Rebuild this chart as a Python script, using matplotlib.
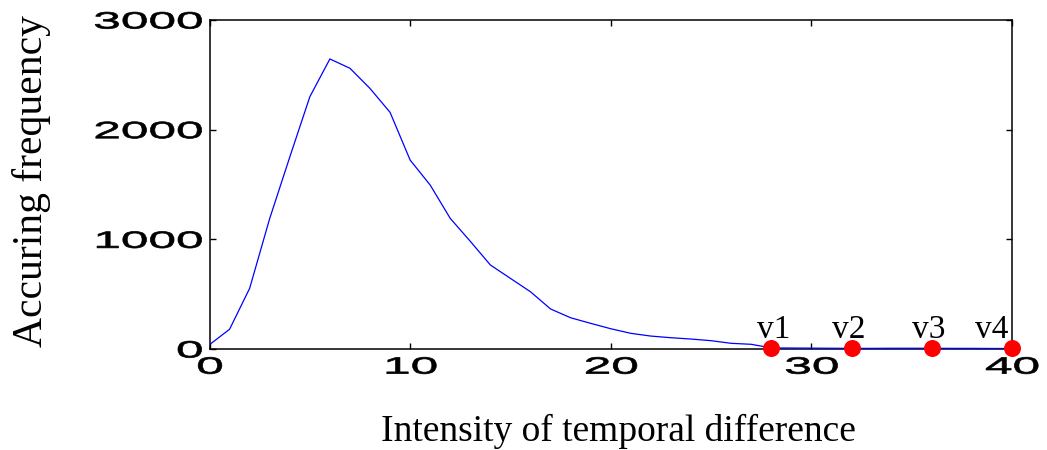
import matplotlib
matplotlib.use("Agg")
import matplotlib.pyplot as plt
from matplotlib.patheffects import AbstractPathEffect
from matplotlib.transforms import Affine2D

# Data
intensity = list(range(0, 41))
frequency = [40, 180, 553, 1190, 1750, 2300, 2645, 2560, 2376, 2158,
             1723, 1495, 1191, 982, 766, 644, 522, 365, 285, 234,
             185, 143, 118, 103, 91, 76, 52, 43, 10, 9,
             8, 7, 6, 6, 7, 7, 7, 6, 6, 5, 5]
marker_x = [28, 32, 36, 40]
marker_labels = ["v1", "v2", "v3", "v4"]
x_ticks = [0, 10, 20, 30, 40]
y_ticks = [0, 1000, 2000, 3000]


class StretchX(AbstractPathEffect):
    """Draw text glyphs horizontally stretched around an anchor."""
    def __init__(self, sx, anchor="center", stroke=0.0):
        super().__init__()
        self.sx = sx
        self.anchor = anchor
        self.stroke = stroke

    def draw_path(self, renderer, gc, tpath, affine, rgbFace=None):
        v = tpath.vertices
        if len(v):
            xmin, xmax = v[:, 0].min(), v[:, 0].max()
        else:
            xmin = xmax = 0.0
        a = {"left": xmin, "center": 0.5 * (xmin + xmax), "right": xmax}[self.anchor]
        t = Affine2D().translate(-a, 0).scale(self.sx, 1).translate(a, 0) + affine
        gc0 = renderer.new_gc()
        gc0.copy_properties(gc)
        if self.stroke > 0 and rgbFace is not None:
            gc0.set_linewidth(self.stroke)
            gc0.set_foreground(rgbFace)
        renderer.draw_path(gc0, tpath, t, rgbFace)
        gc0.restore()


fig = plt.figure(figsize=(10.47, 4.5), dpi=100)
ax = fig.add_axes([0.2001, 0.2244, 0.7665, 0.7311])

ax.plot(intensity, frequency, color="#0000ff", lw=0.9, zorder=3)

marker_y = [frequency[intensity.index(x)] for x in marker_x]
ax.plot(marker_x, marker_y, "o", color="#ff0000", ms=11.2, mec="#ff0000",
        clip_on=False, zorder=4)

label_offsets = [(1.5, 7.5), (-2, 7.5), (-2, 7.5), (-15, 7.5)]
for x, y, lab, off in zip(marker_x, marker_y, marker_labels, label_offsets):
    ax.annotate(lab, (x, y), xytext=off, textcoords="offset points",
                ha="center", va="baseline", fontsize=24,
                family="Liberation Serif", annotation_clip=False)

ax.set_xlim(0, 40)
ax.set_ylim(0, 3000)
ax.set_xticks(x_ticks)
ax.set_yticks(y_ticks)
ax.set_xticklabels([str(t) for t in x_ticks])
ax.set_yticklabels([str(t) for t in y_ticks])

for lbl in ax.get_xticklabels():
    lbl.set_family("Liberation Sans")
    lbl.set_fontsize(17)
    lbl.set_path_effects([StretchX(2.1, "center", stroke=0.5)])
for lbl in ax.get_yticklabels():
    lbl.set_family("Liberation Sans")
    lbl.set_fontsize(17)
    lbl.set_path_effects([StretchX(2.1, "right", stroke=0.5)])

ax.tick_params(direction="in", length=4.5, width=1.0, top=True, right=True)
ax.tick_params(axis="y", pad=5)
ax.tick_params(axis="x", pad=5.5)
for s in ax.spines.values():
    s.set_linewidth(1.1)

ax.set_xlabel("Intensity of temporal difference", family="Liberation Serif",
              fontsize=27)
ax.xaxis.set_label_coords(0.510, -0.196)
ax.set_ylabel("Accuring frequency", family="Liberation Serif", fontsize=30)
ax.yaxis.set_label_coords(-0.198, 0.509)

fig.savefig("out.png", dpi=100)
